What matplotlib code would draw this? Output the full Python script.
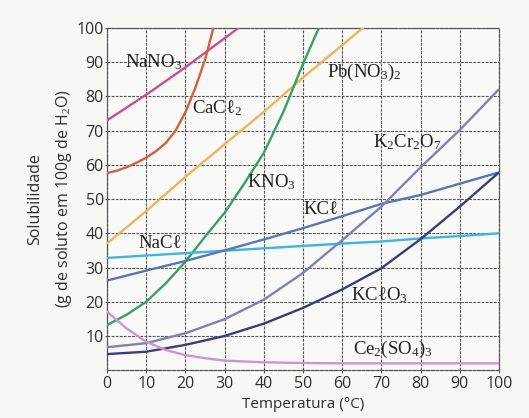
import numpy as np
import matplotlib
matplotlib.use("Agg")
import matplotlib.pyplot as plt

# ---- data ----
t_nano3 = [0, 10, 20, 30, 40]
nano3 = [73, 80.5, 88.5, 97, 105.5]

t_cacl2 = [0, 2.5, 5, 7.5, 10, 12.5, 15, 17.5, 20, 22.5, 25, 26, 27, 28]
cacl2 = [57.6, 58.3, 59.3, 60.6, 62.1, 64.0, 66.4, 70.0, 75.4, 82.4, 90.7, 95.0, 99.4, 104]

t_pbno3 = [0, 10, 20, 30, 40, 50, 60, 70]
pbno3 = [37, 46.5, 56.5, 66, 75.5, 85.5, 95, 104.5]

t_kno3 = [0, 5, 10, 15, 20, 25, 30, 35, 40, 45, 50, 55]
kno3 = [13.2, 16.2, 20.0, 25.4, 31.7, 39.0, 46.0, 54.5, 63.5, 75.5, 89.5, 102.5]

temps = [0, 10, 20, 30, 40, 50, 60, 70, 80, 90, 100]
nacl = [32.8, 33.5, 34.2, 34.9, 35.6, 36.3, 37.0, 37.6, 38.5, 39.2, 40.0]
kcl = [26.2, 29.1, 31.9, 35.0, 38.2, 41.5, 45.0, 48.6, 51.2, 54.5, 57.8]
k2cr2o7 = [6.7, 7.9, 10.8, 14.9, 20.6, 28.4, 38.0, 47.8, 59.3, 70.2, 82.1]
kclo3 = [4.7, 5.4, 7.4, 10.0, 13.6, 18.2, 23.6, 29.8, 38.3, 47.8, 57.8]

t_ce2 = [0, 5, 10, 15, 20, 25, 30, 40, 50, 60, 70, 80, 90, 100]
ce2so43 = [17.1, 12.2, 8.3, 5.9, 4.4, 3.5, 2.8, 2.3, 2.1, 2.0, 2.0, 2.0, 2.0, 2.0]

x_ticks = [0, 10, 20, 30, 40, 50, 60, 70, 80, 90, 100]
y_ticks = [10, 20, 30, 40, 50, 60, 70, 80, 90, 100]

# ---- style ----
plt.rcParams['mathtext.fontset'] = 'custom'
plt.rcParams['mathtext.rm'] = 'Liberation Serif'
plt.rcParams['mathtext.it'] = 'Liberation Serif:italic'

bg = '#f7f8f4'
fig = plt.figure(figsize=(5.29, 4.18), dpi=100, facecolor=bg)
ax = fig.add_axes([0.2023, 0.1144, 0.741, 0.8187])
ax.set_facecolor('#f9faf7')

series = [
    (t_nano3, nano3, '#c8508a'),
    (t_cacl2, cacl2, '#d0603e'),
    (t_pbno3, pbno3, '#f0b25e'),
    (t_kno3, kno3, '#35a060'),
    (temps, nacl, '#3fb4e2'),
    (temps, kcl, '#5578b4'),
    (temps, k2cr2o7, '#8080b8'),
    (temps, kclo3, '#3c3c7c'),
    (t_ce2, ce2so43, '#cc94d4'),
]
for xs, ys, c in series:
    ax.plot(xs, ys, color=c, lw=1.7, solid_capstyle='butt',
            solid_joinstyle='round', zorder=3)

ax.set_xlim(0, 100)
ax.set_ylim(0, 100)
ax.set_xticks(x_ticks)
ax.set_yticks(y_ticks)
ax.set_xticklabels([str(v) for v in x_ticks])
ax.set_yticklabels([str(v) for v in y_ticks])

dash = (0, (2.5, 1.2))
ax.grid(True, color='#555555', lw=0.8, linestyle=dash, zorder=1)
for s in ax.spines.values():
    s.set_linestyle(dash)
    s.set_color('#555555')
    s.set_linewidth(0.9)

ax.tick_params(axis='x', length=2, width=0.8, color='#555555', pad=2.5,
               labelsize=11.5, labelcolor='#2e2e2e')
ax.tick_params(axis='y', length=1.5, width=0.8, color='#555555', pad=0.8,
               labelsize=11.5, labelcolor='#2e2e2e')
for lab in ax.get_xticklabels() + ax.get_yticklabels():
    lab.set_family('Open Sans')

ax.set_xlabel('Temperatura (°C)', family='Open Sans', fontsize=11,
              color='#2e2e2e', labelpad=3)
ax.set_ylabel('Solubilidade\n(g de soluto em 100g de H$_2$O)',
              family='Open Sans', fontsize=11.5, color='#2e2e2e',
              labelpad=2, linespacing=1.75)

fam = ['Liberation Serif', 'DejaVu Serif']
fs = 13.5
labels = [
    (12, 90, 'NaNO$_3$'),
    (28, 76.5, 'CaC\u2113$_2$'),
    (65.5, 87, 'Pb(NO$_3$)$_2$'),
    (76.5, 66.5, 'K$_2$Cr$_2$O$_7$'),
    (42, 55, 'KNO$_3$'),
    (54.5, 47, 'KC\u2113'),
    (13.5, 37, 'NaC\u2113'),
    (69.5, 22, 'KC\u2113O$_3$'),
    (73, 6, 'Ce$_2$(SO$_4$)$_3$'),
]
for x, y, s in labels:
    ax.text(x, y, s, family=fam, fontsize=fs, color='#222222',
            ha='center', va='center', zorder=4)

fig.savefig('out.png', dpi=100, facecolor=bg)
